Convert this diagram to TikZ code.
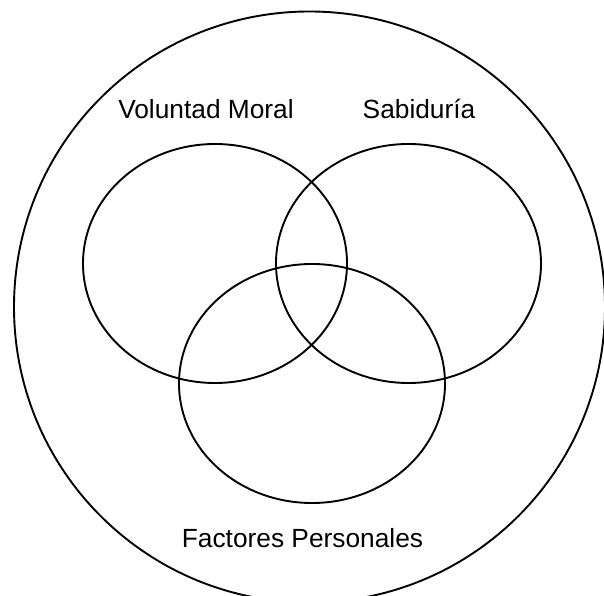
\documentclass[tikz,border=0pt]{standalone}
\usepackage{fontspec}
\setmainfont{Liberation Sans}
\begin{document}
\begin{tikzpicture}[x=1pt,y=1pt,
  ring/.style={draw=black,line width=1.9pt},
  lbl/.style={anchor=base,inner sep=0pt,font=\fontsize{26.3}{30}\selectfont}]
\useasboundingbox (0,0) rectangle (604,595);
\clip (0,0) rectangle (604,595);
\fill[white] (0,0) rectangle (604,595);
% outer circle
\draw[ring] (309.5,288) circle[radius=295.5];
% three ellipses
\draw[ring] (215,331.5) ellipse[x radius=132,y radius=119.5];
\draw[ring] (408.5,331.5) ellipse[x radius=132.5,y radius=119.5];
\draw[ring] (312,211.5) ellipse[x radius=133,y radius=119.5];
% labels
\node[lbl] (vm) at (206,476) {Voluntad Moral};
\node[lbl] (sb) at (419,476) {Sabiduría};
\node[lbl] (fp) at (302.5,48) {Factores Personales};
\end{tikzpicture}
\end{document}
